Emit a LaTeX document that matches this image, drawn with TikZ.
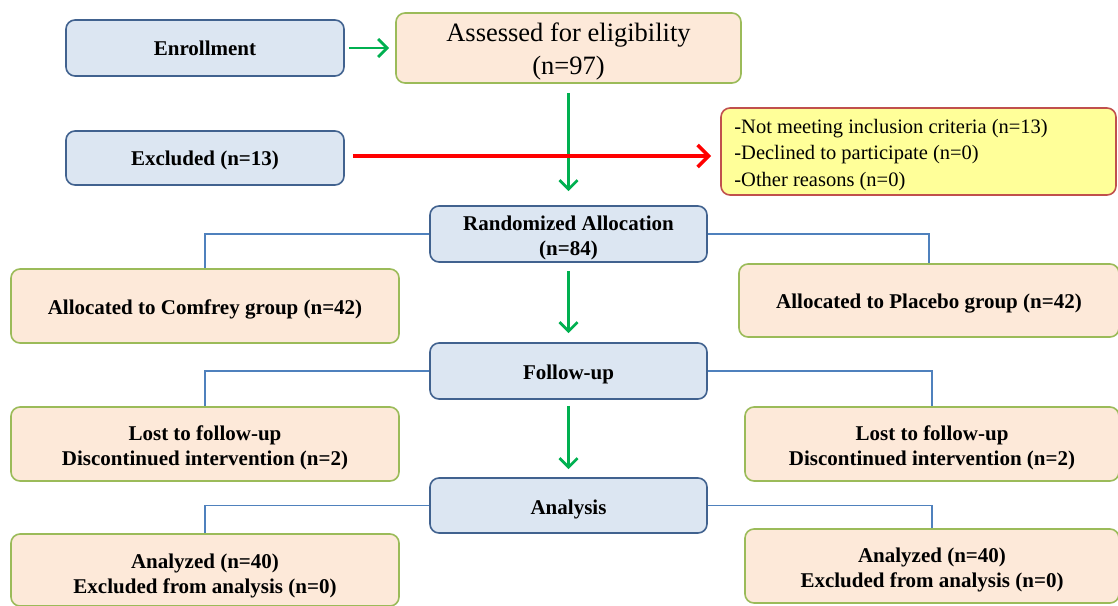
\documentclass[tikz,border=0pt]{standalone}
\usepackage{fontspec}
\setmainfont{Liberation Serif}
\usetikzlibrary{arrows.meta}
\definecolor{bfill}{HTML}{DCE6F2}
\definecolor{bdraw}{HTML}{41628F}
\definecolor{pfill}{HTML}{FDE9D9}
\definecolor{pdraw}{HTML}{9BBB59}
\definecolor{yfill}{HTML}{FFFF99}
\definecolor{ydraw}{HTML}{C0504D}
\definecolor{cline}{HTML}{4F81BD}
\definecolor{garr}{HTML}{00B050}
\definecolor{rarr}{HTML}{FF0000}
\begin{document}
\begin{tikzpicture}[x=1pt,y=-1pt,
  box/.style={rounded corners=9pt, line width=1.6pt, inner sep=0pt},
  bluebox/.style={box, fill=bfill, draw=bdraw},
  peachbox/.style={box, fill=pfill, draw=pdraw},
  txt/.style={inner sep=0pt, align=center, yshift=-3.5pt, font=\bfseries\fontsize{21}{25}\selectfont},
  conn/.style={draw=cline, line width=1.6pt},
  garrow/.style={draw=garr, line width=2.8pt, -{Straight Barb[length=9pt,width=18pt,line width=2.8pt]}},
  rarrow/.style={draw=rarr, line width=3.6pt, -{Straight Barb[length=11pt,width=22pt,line width=3.6pt]}}
]
\useasboundingbox (0,0) rectangle (1118,605);
\node[bluebox, minimum width=278pt, minimum height=56pt] (enroll) at (205,48) {};
\node[txt, yshift=3pt] (enroll-t) at (enroll.center) {Enrollment};
\node[peachbox, minimum width=345pt, minimum height=70pt] (assess) at (568.5,48) {};
\node[txt, font=\fontsize{26.5}{33}\selectfont] (assess-t) at (assess.center) {Assessed for eligibility\\(n=97)};
\node[bluebox, minimum width=278pt, minimum height=54pt] (excl) at (205,158) {};
\node[txt, yshift=1pt] (excl-t) at (excl.center) {Excluded (n=13)};
\node[box, fill=yfill, draw=ydraw, minimum width=395pt, minimum height=87pt] (reasons) at (918.5,151.5) {};
\node[txt, align=left, anchor=west, font=\fontsize{20.5}{26.5}\selectfont] (reasons-t) at ([xshift=14pt]reasons.west) {-Not meeting inclusion criteria (n=13)\\-Declined to participate (n=0)\\-Other reasons (n=0)};
\node[bluebox, minimum width=277pt, minimum height=56pt] (rand) at (568.5,234) {};
\node[txt] (rand-t) at (rand.center) {Randomized Allocation\\(n=84)};
\node[peachbox, minimum width=388pt, minimum height=74pt] (comf) at (205,306) {};
\node[txt] (comf-t) at (comf.center) {Allocated to Comfrey group (n=42)};
\node[peachbox, minimum width=380pt, minimum height=73pt] (plac) at (929,300.5) {};
\node[txt] (plac-t) at (plac.center) {Allocated to Placebo group (n=42)};
\node[bluebox, minimum width=277pt, minimum height=56pt] (follow) at (568.5,371) {};
\node[txt] (follow-t) at (follow.center) {Follow-up};
\node[peachbox, minimum width=388pt, minimum height=74pt] (lostL) at (205,444) {};
\node[txt] (lostL-t) at (lostL.center) {Lost to follow-up\\Discontinued intervention (n=2)};
\node[peachbox, minimum width=374pt, minimum height=74pt] (lostR) at (932,444) {};
\node[txt] (lostR-t) at (lostR.center) {Lost to follow-up\\Discontinued intervention (n=2)};
\node[bluebox, minimum width=277pt, minimum height=55pt] (anal) at (568.5,505.5) {};
\node[txt] (anal-t) at (anal.center) {Analysis};
\node[peachbox, minimum width=388pt, minimum height=72pt] (anzL) at (205,570) {};
\node[txt, yshift=-2pt] (anzL-t) at (anzL.center) {Analyzed (n=40)\\Excluded from analysis (n=0)};
\node[peachbox, minimum width=374pt, minimum height=74pt] (anzR) at (932,566) {};
\node[txt] (anzR-t) at (anzR.center) {Analyzed (n=40)\\Excluded from analysis (n=0)};

\draw[garrow, shorten <=4pt, shorten >=6pt] (enroll.east) -- (assess.west |- enroll.east);
\draw[garrow, shorten <=9pt, shorten >=14pt] (assess.south) -- (rand.north);
\draw[rarrow, shorten <=8pt, shorten >=9pt] ([yshift=2pt]excl.east) -- ([yshift=2pt]excl.east -| reasons.west);
\draw[garrow, shorten <=8pt, shorten >=9pt] (rand.south) -- (follow.north);
\draw[garrow, shorten <=6pt, shorten >=8pt] (follow.south) -- (anal.north);

\draw[conn] (rand.west) -| (comf.north);
\draw[conn] (rand.east) -| (plac.north);
\draw[conn] (follow.west) -| (lostL.north);
\draw[conn] (follow.east) -| (lostR.north);
\draw[conn] (anal.west) -| (anzL.north);
\draw[conn] (anal.east) -| (anzR.north);
\end{tikzpicture}
\end{document}
